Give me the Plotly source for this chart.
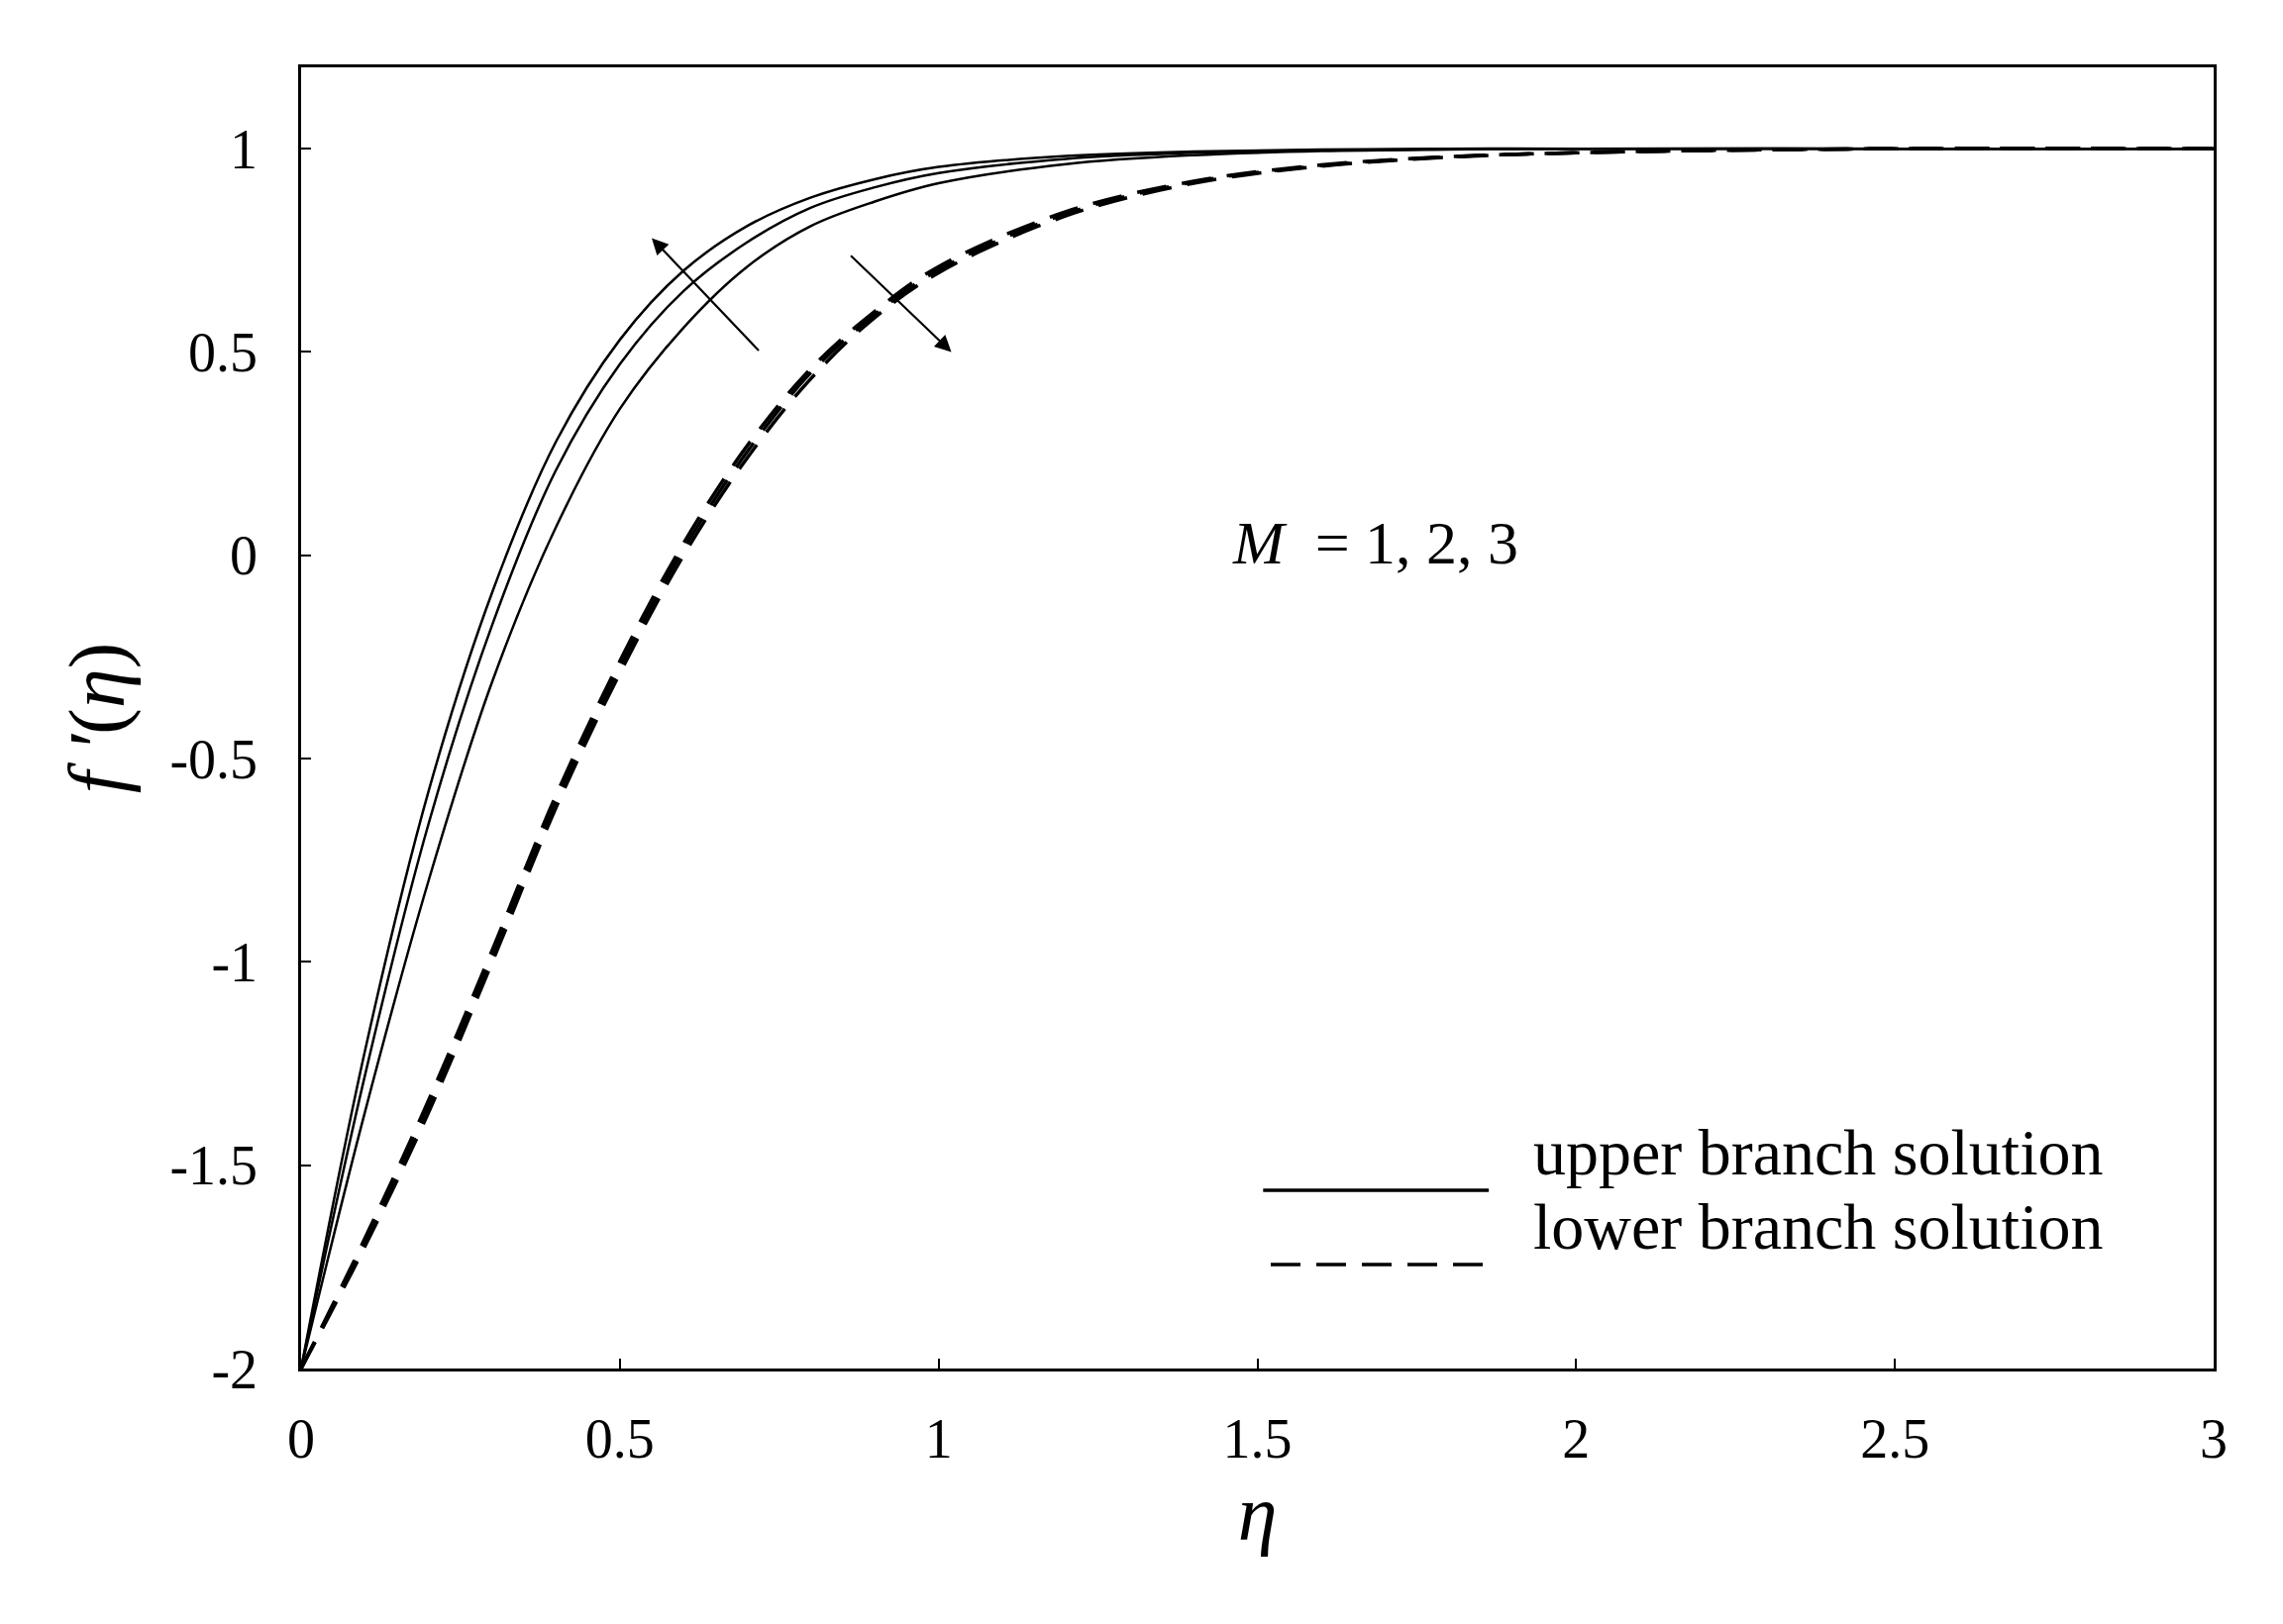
import plotly.graph_objects as go

eta = [0, 0.1, 0.2, 0.3, 0.4, 0.5, 0.6, 0.7, 0.8, 0.9, 1.0, 1.2, 1.4, 1.6, 1.8, 2.0, 2.5, 3.0]

upper_m1 = [-2, -1.22, -0.58, -0.09, 0.28, 0.53, 0.7, 0.81, 0.88, 0.925, 0.955, 0.982, 0.993, 0.998, 1, 1, 1, 1]
upper_m2 = [-2, -1.28, -0.66, -0.17, 0.21, 0.47, 0.65, 0.77, 0.855, 0.905, 0.94, 0.975, 0.99, 0.996, 0.999, 1, 1, 1]
upper_m3 = [-2, -1.37, -0.8, -0.31, 0.07, 0.36, 0.56, 0.71, 0.81, 0.87, 0.915, 0.962, 0.984, 0.994, 0.998, 1, 1, 1]

lower_m1 = [-2, -1.68, -1.34, -0.97, -0.59, -0.26, 0.03, 0.27, 0.46, 0.6, 0.71, 0.845, 0.92, 0.96, 0.98, 0.99, 1, 1]
lower_m2 = [-2, -1.7, -1.37, -1.0, -0.62, -0.29, 0.0, 0.24, 0.435, 0.585, 0.695, 0.835, 0.915, 0.957, 0.979, 0.99, 1, 1]
lower_m3 = [-2, -1.69, -1.355, -0.985, -0.605, -0.275, 0.015, 0.255, 0.45, 0.592, 0.702, 0.84, 0.918, 0.958, 0.98, 0.99, 1, 1]

FONT = "Liberation Serif"

fig = go.Figure()
for y in [upper_m1, upper_m2, upper_m3]:
    fig.add_trace(go.Scatter(x=eta, y=y, mode="lines", line=dict(color="black", width=2.5, shape="spline"), showlegend=False))
for y in [lower_m1, lower_m2, lower_m3]:
    fig.add_trace(go.Scatter(x=eta, y=y, mode="lines", line=dict(color="black", width=3.5, dash="30px,16px", shape="spline"), showlegend=False))

# arrows
fig.add_annotation(x=0.55, y=0.78, ax=0.72, ay=0.5, xref="x", yref="y", axref="x", ayref="y",
                   text="", showarrow=True, arrowhead=2, arrowsize=1.5, arrowwidth=2.2, arrowcolor="black")
fig.add_annotation(x=1.02, y=0.5, ax=0.86, ay=0.74, xref="x", yref="y", axref="x", ayref="y",
                   text="", showarrow=True, arrowhead=2, arrowsize=1.5, arrowwidth=2.2, arrowcolor="black")
fig.add_annotation(x=1.685, y=0.03, xref="x", yref="y", showarrow=False,
                   text="<i>M</i>  = 1, 2, 3", font=dict(family=FONT, size=62, color="black"))

# legend
fig.add_shape(type="line", xref="paper", yref="paper", x0=0.503, x1=0.621, y0=0.137, y1=0.137,
              line=dict(color="black", width=3.5))
fig.add_shape(type="line", xref="paper", yref="paper", x0=0.507, x1=0.625, y0=0.080, y1=0.080,
              line=dict(color="black", width=3.5, dash="30px,16px"))
fig.add_annotation(x=0.643, y=0.137, xref="paper", yref="paper", xanchor="left", showarrow=False,
                   text="upper branch solution", font=dict(family=FONT, size=66, color="black"))
fig.add_annotation(x=0.643, y=0.080, xref="paper", yref="paper", xanchor="left", showarrow=False,
                   text="lower branch solution", font=dict(family=FONT, size=66, color="black"))

axis_common = dict(showgrid=False, zeroline=False, showline=True, linecolor="black", linewidth=2.5,
                   mirror=True, ticks="inside", ticklen=10, tickwidth=2, tickcolor="black",
                   tickfont=dict(family=FONT, size=56, color="black"))
fig.update_xaxes(range=[0, 3], tickvals=[0, 0.5, 1, 1.5, 2, 2.5, 3], ticklabelstandoff=20,
                 title=dict(text="<i>η</i>", font=dict(family=FONT, size=80, color="black"), standoff=0),
                 **axis_common)
fig.update_yaxes(range=[-2, 1.2], tickvals=[-2, -1.5, -1, -0.5, 0, 0.5, 1],
                 ticktext=["-2", "-1.5", "-1", "-0.5", "0", "0.5", "1"], ticklabelstandoff=30,
                 title=dict(text="<i>f ′</i>(<i>η</i>)", font=dict(family=FONT, size=80, color="black"), standoff=20),
                 **axis_common)
fig.update_layout(width=2305, height=1640, plot_bgcolor="white", paper_bgcolor="white",
                  margin=dict(l=296, r=78, t=60, b=266))
fig.write_html("out.html")
